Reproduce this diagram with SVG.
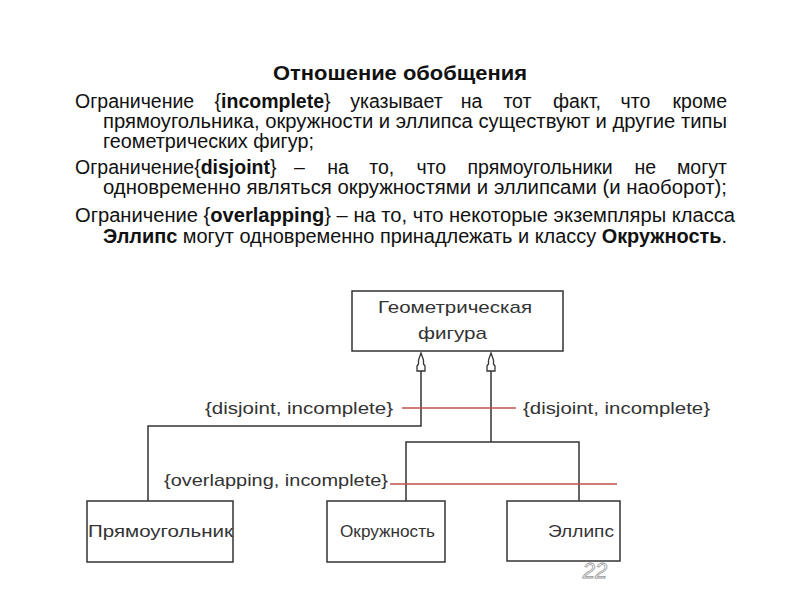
<svg xmlns="http://www.w3.org/2000/svg" width="800" height="600" viewBox="0 0 800 600">
<style>
text{font-family:"Liberation Sans",Arial,sans-serif}
.t{font-size:19.5px;fill:#111}
.b{font-weight:bold}
.e{text-anchor:end}
.d{font-size:17px;fill:#333}
.box{fill:#fff;stroke:#333;stroke-width:1.5}
.ln{fill:none;stroke:#333;stroke-width:1.5}
.red{stroke:#c0504d;stroke-width:1.5;fill:none}
.ah{fill:#fff;stroke:#333;stroke-width:1.3}
</style>
<rect width="800" height="600" fill="#fff"/>
<g id="text">
<text class="t b" x="273" y="80" font-size="20" textLength="254" lengthAdjust="spacingAndGlyphs">Отношение обобщения</text>
<g>
<text class="t" x="75" y="108">Ограничение</text>
<text class="t" x="214.6" y="108">{<tspan class="b">incomplete</tspan>}</text>
<text class="t" x="350.2" y="108">указывает</text>
<text class="t" x="460.8" y="108">на</text>
<text class="t" x="503.4" y="108">тот</text>
<text class="t" x="553" y="108">факт,</text>
<text class="t" x="620.6" y="108">что</text>
<text class="t e" x="727" y="108">кроме</text>
</g>
<text class="t" x="103" y="128" textLength="624" lengthAdjust="spacingAndGlyphs">прямоугольника, окружности и эллипса существуют и другие типы</text>
<text class="t" x="103" y="148" textLength="211" lengthAdjust="spacingAndGlyphs">геометрических фигур;</text>
<g>
<text class="t" x="75" y="174">Ограничение{<tspan class="b">disjoint</tspan>}</text>
<text class="t" x="294.1" y="174">–</text>
<text class="t" x="327.2" y="174">на</text>
<text class="t" x="369.3" y="174">то,</text>
<text class="t" x="416.4" y="174">что</text>
<text class="t" x="467.5" y="174">прямоугольники</text>
<text class="t" x="634.6" y="174">не</text>
<text class="t e" x="727" y="174">могут</text>
</g>
<text class="t" x="103" y="194" textLength="624" lengthAdjust="spacingAndGlyphs">одновременно являться окружностями и эллипсами (и наоборот);</text>
<text class="t" x="75" y="222" textLength="660" lengthAdjust="spacingAndGlyphs">Ограничение {<tspan class="b">overlapping</tspan>} – на то, что некоторые экземпляры класса</text>
<text class="t" x="103" y="243" textLength="624" lengthAdjust="spacingAndGlyphs"><tspan class="b">Эллипс</tspan> могут одновременно принадлежать и классу <tspan class="b">Окружность</tspan>.</text>
</g>
<g id="connectors">
<polyline class="ln" points="421,371 421,426 148,426 148,501"/>
<polyline class="ln" points="491,371 491,442"/>
<polyline class="ln" points="406,501 406,442 579,442 579,501"/>
<polygon class="ah" points="421,353 418.5,360 418.5,364 417,366 417,371 425,371 425,366 423.5,364 423.5,360"/>
<polygon class="ah" points="491,353 488.5,360 488.5,364 487,366 487,371 495,371 495,366 493.5,364 493.5,360"/>
<line class="red" x1="402" y1="408" x2="516" y2="408"/>
<line class="red" x1="390" y1="484" x2="617" y2="484"/>
<text class="d" x="205" y="414" textLength="188" lengthAdjust="spacingAndGlyphs">{disjoint, incomplete}</text>
<text class="d" x="523" y="414" textLength="187" lengthAdjust="spacingAndGlyphs">{disjoint, incomplete}</text>
<text class="d" x="164" y="486" textLength="224" lengthAdjust="spacingAndGlyphs">{overlapping, incomplete}</text>
</g>
<g id="node-geom">
<rect class="box" x="352" y="291" width="211" height="60"/>
<text class="d" x="378" y="313" textLength="154" lengthAdjust="spacingAndGlyphs">Геометрическая</text>
<text class="d" x="418" y="339" textLength="69" lengthAdjust="spacingAndGlyphs">фигура</text>
</g>
<g id="node-rect">
<rect class="box" x="87" y="501" width="146" height="61"/>
<text class="d" x="88" y="537" textLength="145" lengthAdjust="spacingAndGlyphs">Прямоугольник</text>
</g>
<g id="node-circle">
<rect class="box" x="327" y="501" width="118" height="61"/>
<text class="d" x="340" y="537" textLength="95" lengthAdjust="spacingAndGlyphs">Окружность</text>
</g>
<g id="node-ellipse">
<rect class="box" x="507" y="501" width="113" height="60"/>
<text class="d" x="548" y="537" textLength="66" lengthAdjust="spacingAndGlyphs">Эллипс</text>
</g>
<text x="595" y="578" text-anchor="middle" font-size="22" fill="#fff" stroke="#999" stroke-width="0.8" font-style="italic">22</text>
</svg>
